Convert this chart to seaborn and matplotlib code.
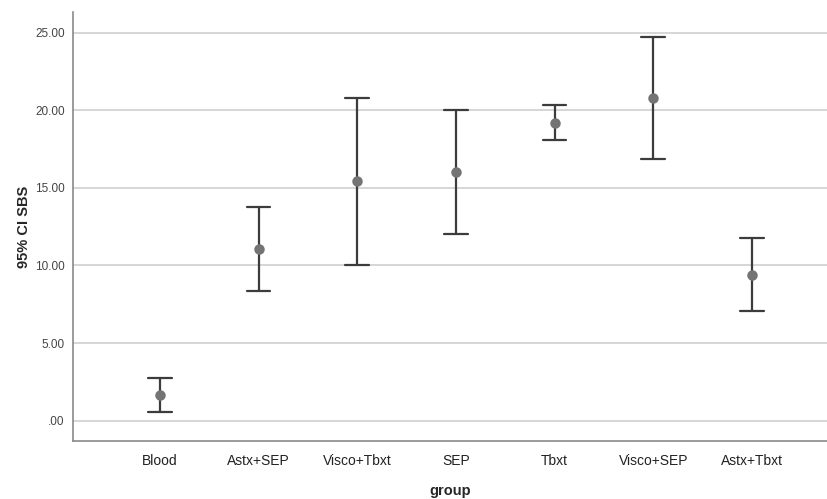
import numpy as np
import seaborn as sb
import pandas as pd
import matplotlib.pyplot as plt
import matplotlib.ticker as ticker

# Values (95% CI of SBS per group)
groups = ["Blood", "Astx+SEP", "Visco+Tbxt", "SEP", "Tbxt", "Visco+SEP", "Astx+Tbxt"]
means = [1.65, 11.05, 15.43, 16.03, 19.21, 20.79, 9.39]
lower = [0.55, 8.34, 10.05, 12.03, 18.08, 16.85, 7.05]
upper = [2.77, 13.75, 20.83, 20.03, 20.34, 24.74, 11.75]
yticks = [0, 5, 10, 15, 20, 25]

# long table: median of (lower, mean, upper) -> mean, 100% interval -> lower..upper
rows = []
for g, lo, m, hi in zip(groups, lower, means, upper):
    for v in (lo, m, hi):
        rows.append({"group": g, "SBS": v})
df = pd.DataFrame(rows)

sb.set_style("white")
plt.rcParams['font.family'] = ['Liberation Sans', 'DejaVu Sans']

fig = plt.figure(figsize=(8.27, 4.99), dpi=100)
ax = fig.add_axes([0.0883, 0.1162, 0.9117, 0.8598])

sb.pointplot(data=df, x="group", y="SBS", order=groups, estimator="median",
             errorbar=("pi", 100), linestyle="none", capsize=0.24,
             color="#747474", markersize=5.5,
             err_kws={"color": "#3c3c3c", "linewidth": 1.6, "zorder": 1.5}, ax=ax)

ax.set_xlim(-0.88, 6.76)
ax.set_ylim(-1.32, 26.35)
ax.yaxis.set_major_locator(ticker.FixedLocator(yticks))
ax.yaxis.set_major_formatter(ticker.FuncFormatter(lambda v, p: ".00" if v == 0 else f"{v:.2f}"))

ax.grid(axis="y", color="#d0d0d0", linewidth=1.2)
ax.set_axisbelow(True)

for s in ["top", "right"]:
    ax.spines[s].set_visible(False)
for s in ["left", "bottom"]:
    ax.spines[s].set_color("#8a8a8a")
    ax.spines[s].set_linewidth(1.2)

ax.tick_params(axis="both", length=0)
ax.tick_params(axis="y", labelsize=8.5, labelcolor="#444444", pad=6)
ax.tick_params(axis="x", labelsize=10, labelcolor="#222222", pad=9)

ax.set_xlabel("group", fontsize=10.5, fontweight="bold", labelpad=12)
ax.set_ylabel("95% CI SBS", fontsize=10.5, fontweight="bold", labelpad=3)

plt.savefig("out.png", dpi=100)
